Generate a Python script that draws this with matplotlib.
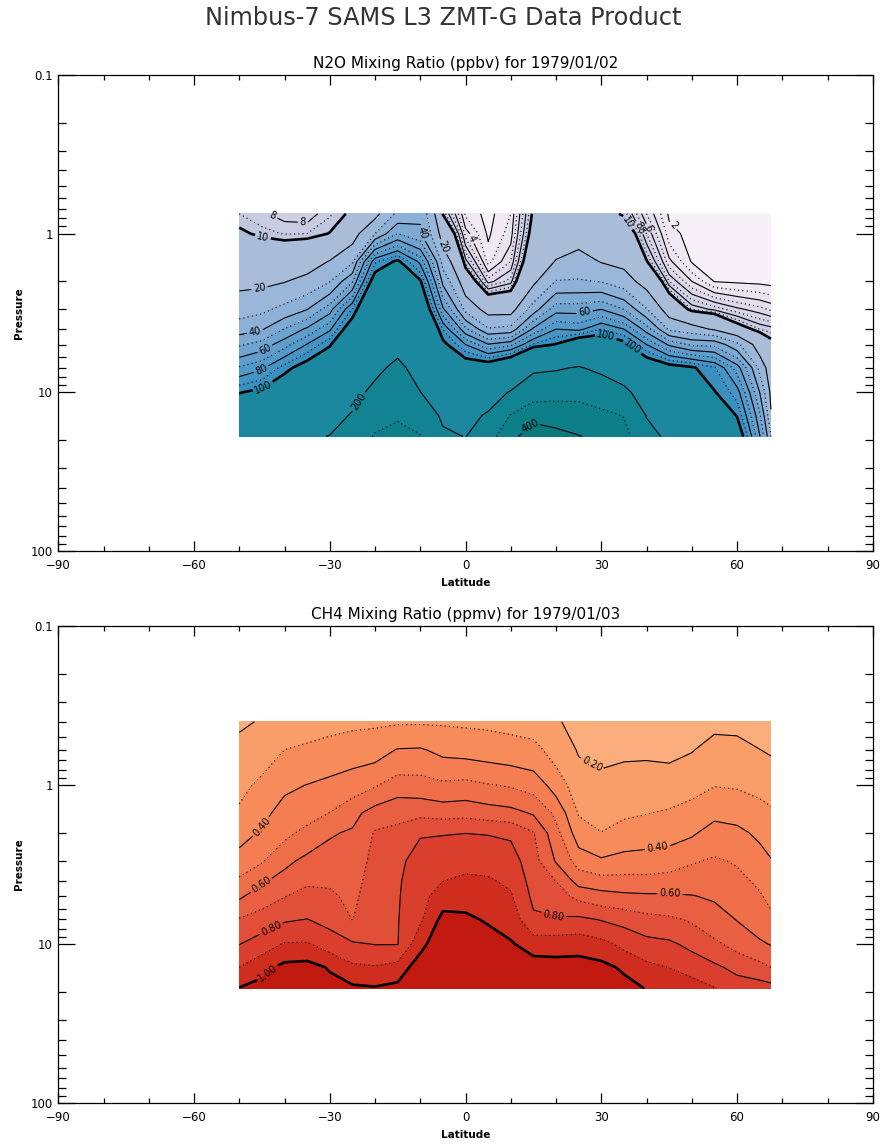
import numpy as np
import matplotlib
matplotlib.use('Agg')
import matplotlib.pyplot as plt
from matplotlib.ticker import LogLocator, NullFormatter, FixedLocator

# ─── data ───────────────────────────────────────────────────────────────────
lats = [-50, -45, -40, -35, -30, -25, -20, -15, -10, -5, 0, 5, 10, 15, 20,
        25, 30, 35, 40, 45, 50, 55, 60, 65, 67.5]

# N2O (ppbv), one profile per latitude, pressures below
n2o_pres = [0.75, 1, 1.5, 2, 3, 4, 5, 7, 10, 14, 19]
n2o_profiles = [
    [9.0, 10.5, 14.8, 17.7, 25.4, 35.6, 48.5, 71, 99, 125, 150],
    [8.2, 9.5, 14.3, 18.0, 27.7, 39, 54, 78, 105, 130, 160],
    [7.5, 8.9, 14.2, 19.6, 33, 50.5, 66, 94.5, 120, 150, 180],
    [7.3, 9.0, 15.5, 23, 39.7, 62, 80.6, 110, 140, 165, 190],
    [8.8, 10.1, 20.5, 29.6, 55.6, 78, 98, 125, 152, 178, 202],
    [10.5, 15.8, 28.4, 49, 91, 114, 130, 155, 181, 205, 225],
    [17, 30, 88, 112, 136, 153, 167, 187, 215, 260, 310],
    [32, 50, 103, 120, 148, 169, 184, 213, 254, 293, 320],
    [38, 42, 77, 102, 127, 144, 158, 178, 201, 257, 305],
    [9.8, 15.7, 26, 37, 62, 89.5, 105, 132, 160, 186, 215],
    [2.8, 4.5, 8.5, 13.8, 27, 52, 80, 116, 146, 174, 198],
    [1.6, 1.8, 2.6, 5.5, 16.2, 31, 60.8, 115, 162, 210, 260],
    [3.0, 3.5, 5.0, 7.5, 16, 33, 67, 133, 206, 305, 370],
    [10.5, 11.5, 14, 18, 34.7, 62, 91, 186, 258, 370, 460],
    [12, 15, 20.5, 30.5, 56, 80, 101, 192, 268, 361, 430],
    [13, 16, 23.7, 31, 56, 77, 120, 205, 276, 342, 405],
    [11.5, 13.5, 19.5, 29.5, 60, 90, 120, 182, 257, 320, 370],
    [9.6, 13, 17.8, 24, 50, 80, 106, 158, 219, 297, 330],
    [5.0, 7.0, 10.2, 16.3, 30.5, 55, 80, 119, 160, 197, 225],
    [1.8, 2.4, 4.3, 7.0, 15, 28, 58, 108, 137, 164, 185],
    [1.4, 1.6, 1.9, 4.0, 8.9, 23.7, 48, 102, 125, 145, 160],
    [1.3, 1.4, 1.6, 1.95, 7.7, 18.8, 47, 91, 101, 120, 140],
    [1.2, 1.3, 1.5, 1.8, 6.3, 11.8, 32.5, 65, 85, 99, 115],
    [1.1, 1.2, 1.4, 1.7, 5.4, 9.0, 14.5, 27, 40, 52, 61],
    [1.1, 1.15, 1.35, 1.6, 4.8, 8.5, 11, 14.2, 17.6, 21, 30],
]

# CH4 (ppmv), one profile per latitude
ch4_pres = [0.4, 0.6, 1, 1.5, 2, 3, 4, 5, 7, 10, 14, 19]
ch4_profiles = [
    [0.19, 0.22, 0.27, 0.318, 0.362, 0.441, 0.516, 0.585, 0.707, 0.797, 0.9, 1.005],
    [0.205, 0.255, 0.322, 0.372, 0.413, 0.491, 0.584, 0.651, 0.744, 0.853, 0.965, 1.04],
    [0.24, 0.3, 0.381, 0.438, 0.477, 0.571, 0.644, 0.696, 0.788, 0.908, 1.03, 1.08],
    [0.255, 0.317, 0.402, 0.466, 0.525, 0.63, 0.684, 0.731, 0.802, 0.909, 1.04, 1.08],
    [0.27, 0.335, 0.426, 0.502, 0.589, 0.648, 0.685, 0.717, 0.769, 0.854, 0.99, 1.04],
    [0.28, 0.351, 0.454, 0.566, 0.613, 0.64, 0.66, 0.675, 0.698, 0.812, 0.92, 1.02],
    [0.285, 0.36, 0.49, 0.647, 0.709, 0.732, 0.748, 0.76, 0.779, 0.797, 0.908, 1.01],
    [0.29, 0.405, 0.549, 0.678, 0.72, 0.785, 0.79, 0.792, 0.795, 0.797, 0.937, 1.03],
    [0.29, 0.409, 0.545, 0.674, 0.795, 0.826, 0.846, 0.861, 0.884, 0.967, 1.06, 1.12],
    [0.29, 0.375, 0.52, 0.663, 0.795, 0.857, 0.898, 0.954, 1.03, 1.08, 1.12, 1.14],
    [0.285, 0.365, 0.53, 0.67, 0.799, 0.869, 0.919, 0.959, 1.02, 1.07, 1.11, 1.13],
    [0.28, 0.355, 0.506, 0.651, 0.795, 0.865, 0.911, 0.942, 0.988, 1.05, 1.1, 1.12],
    [0.27, 0.343, 0.49, 0.634, 0.785, 0.846, 0.881, 0.911, 0.958, 1.01, 1.07, 1.1],
    [0.26, 0.328, 0.461, 0.589, 0.707, 0.738, 0.76, 0.778, 0.818, 0.955, 1.05, 1.09],
    [0.21, 0.26, 0.356, 0.478, 0.532, 0.591, 0.698, 0.742, 0.81, 0.957, 1.04, 1.08],
    [0.17, 0.192, 0.243, 0.292, 0.347, 0.458, 0.56, 0.673, 0.821, 0.964, 1.04, 1.07],
    [0.16, 0.18, 0.222, 0.269, 0.302, 0.415, 0.536, 0.64, 0.794, 0.933, 1.03, 1.06],
    [0.16, 0.185, 0.237, 0.285, 0.336, 0.438, 0.533, 0.622, 0.77, 0.874, 0.983, 1.04],
    [0.16, 0.185, 0.244, 0.297, 0.351, 0.442, 0.53, 0.615, 0.732, 0.835, 0.925, 0.995],
    [0.155, 0.18, 0.242, 0.312, 0.362, 0.452, 0.54, 0.613, 0.718, 0.819, 0.898, 0.96],
    [0.15, 0.195, 0.271, 0.333, 0.387, 0.489, 0.556, 0.604, 0.688, 0.772, 0.868, 0.94],
    [0.18, 0.23, 0.296, 0.378, 0.437, 0.513, 0.555, 0.587, 0.645, 0.719, 0.821, 0.905],
    [0.18, 0.224, 0.29, 0.369, 0.422, 0.49, 0.526, 0.554, 0.596, 0.667, 0.769, 0.86],
    [0.16, 0.201, 0.273, 0.335, 0.381, 0.44, 0.481, 0.511, 0.557, 0.613, 0.733, 0.85],
    [0.16, 0.19, 0.26, 0.315, 0.353, 0.406, 0.443, 0.472, 0.523, 0.595, 0.699, 0.84],
]

# contour levels
n2o_fill_levels = [1, 2, 3, 4, 5, 6, 7, 8, 9, 10, 20, 30, 40, 50, 60, 70, 80, 90,
                   100, 200, 300, 400, 500]
n2o_solid = [2, 4, 6, 8, 10, 20, 40, 60, 80, 100, 200, 400]
n2o_dotted = [3, 5, 7, 9, 30, 50, 70, 90, 300]
n2o_thick = [10, 100]

ch4_fill_levels = [0.0, 0.2, 0.3, 0.4, 0.5, 0.6, 0.7, 0.8, 0.9, 1.0, 1.5]
ch4_solid = [0.2, 0.4, 0.6, 0.8, 1.0]
ch4_dotted = [0.3, 0.5, 0.7, 0.9]
ch4_thick = [1.0]

# where the contour labels sit (lat, pressure)
n2o_label_spots = [(-43.2, 0.84), (-35.9, 0.80), (-44.8, 1.06), (-45.4, 2.36),
                   (-46.5, 4.2), (-43.9, 5.6), (-45, 7.4), (-44.8, 9.2),
                   (-23.3, 11.6), (13.6, 15.5), (-9.6, 0.99), (-5.6, 1.23),
                   (2.1, 1.05), (26.4, 3.16), (31.3, 4.16),
                   (36.4, 5.4), (34.1, 0.92), (37.5, 0.91), (39, 0.91),
                   (40.8, 0.91), (44.8, 0.95)]
ch4_label_spots = [(26.9, 0.84), (-44.8, 1.87), (42.5, 2.58), (-44.8, 4.4),
                   (45.2, 4.8), (-42.5, 8.5), (19.3, 6.8), (-43.6, 15.3)]

n2o_colors = ['#f6f0f7', '#f0e9f3', '#eae3f0', '#e3ddec', '#dcd7e9', '#d6d3e7',
              '#cfcfe5', '#c9cbe3', '#c2c7e0', '#a9bdd9', '#9ab6d8', '#8cb0d6',
              '#7da9d3', '#6fa3cf', '#609dcc', '#529ac9', '#4594c4', '#398fc0',
              '#1b88a0', '#128392', '#0c7f88', '#09797a']
ch4_colors = ['#fbad7c', '#f99d69', '#f78c5a', '#f47d51', '#ef6e4a', '#e95f42',
              '#e24f38', '#da3e2c', '#cf2e1f', '#c21a11']

DOT = (0, (0.8, 2.6))

fig = plt.figure(figsize=(8.87, 11.44), dpi=100)
fig.text(0.5, 1 - 18 / 1144, 'Nimbus-7 SAMS L3 ZMT-G Data Product',
         ha='center', va='center', fontsize=17.3, color='#333333')


def draw_panel(ax, pres, profiles, fill_levels, colors, solid, dotted, thick,
               fmt, spots):
    Z = np.array(profiles).T
    ax.contourf(lats, pres, Z, levels=fill_levels, colors=colors)
    ax.contour(lats, pres, Z, levels=dotted, colors='k', linewidths=0.9,
               linestyles=[DOT])
    widths = [1.9 if lv in thick else 0.8 for lv in solid]
    cs = ax.contour(lats, pres, Z, levels=solid, colors='k', linewidths=widths,
                    linestyles='solid')
    ax.clabel(cs, fmt=fmt, fontsize=7, inline=True, inline_spacing=2,
              manual=spots)


def style_axes(ax, title):
    ax.set_yscale('log')
    ax.set_xlim(-90, 90)
    ax.set_ylim(100, 0.1)
    ax.set_xticks(range(-90, 91, 30))
    ax.xaxis.set_minor_locator(FixedLocator(range(-90, 91, 10)))
    ax.set_yticks([0.1, 1, 10, 100])
    ax.set_yticklabels(['0.1', '1', '10', '100'])
    ax.yaxis.set_minor_locator(LogLocator(base=10, subs=range(2, 10)))
    ax.yaxis.set_minor_formatter(NullFormatter())
    ax.tick_params(which='both', direction='in', top=True, right=True,
                   width=0.9, labelsize=8.5)
    ax.tick_params(axis='x', which='major', length=7, pad=6)
    ax.tick_params(axis='x', which='minor', length=3.5)
    ax.tick_params(axis='y', which='major', length=12, pad=4)
    ax.tick_params(axis='y', which='minor', length=6)
    for s in ax.spines.values():
        s.set_linewidth(0.9)
    ax.set_title(title, fontsize=11, pad=5)
    ax.set_xlabel('Latitude', fontsize=7.5, fontweight='bold', labelpad=4)
    ax.set_ylabel('Pressure', fontsize=7.5, fontweight='bold', labelpad=5)


ax1 = fig.add_axes([0.0657, 0.5184, 0.9183, 0.4161])
style_axes(ax1, 'N2O Mixing Ratio (ppbv) for 1979/01/02')
draw_panel(ax1, n2o_pres, n2o_profiles, n2o_fill_levels, n2o_colors,
           n2o_solid, n2o_dotted, n2o_thick, '%d', n2o_label_spots)

ax2 = fig.add_axes([0.0657, 0.0358, 0.9183, 0.4170])
style_axes(ax2, 'CH4 Mixing Ratio (ppmv) for 1979/01/03')
draw_panel(ax2, ch4_pres, ch4_profiles, ch4_fill_levels, ch4_colors,
           ch4_solid, ch4_dotted, ch4_thick, '%.2f', ch4_label_spots)

fig.savefig('out.png', dpi=100)
